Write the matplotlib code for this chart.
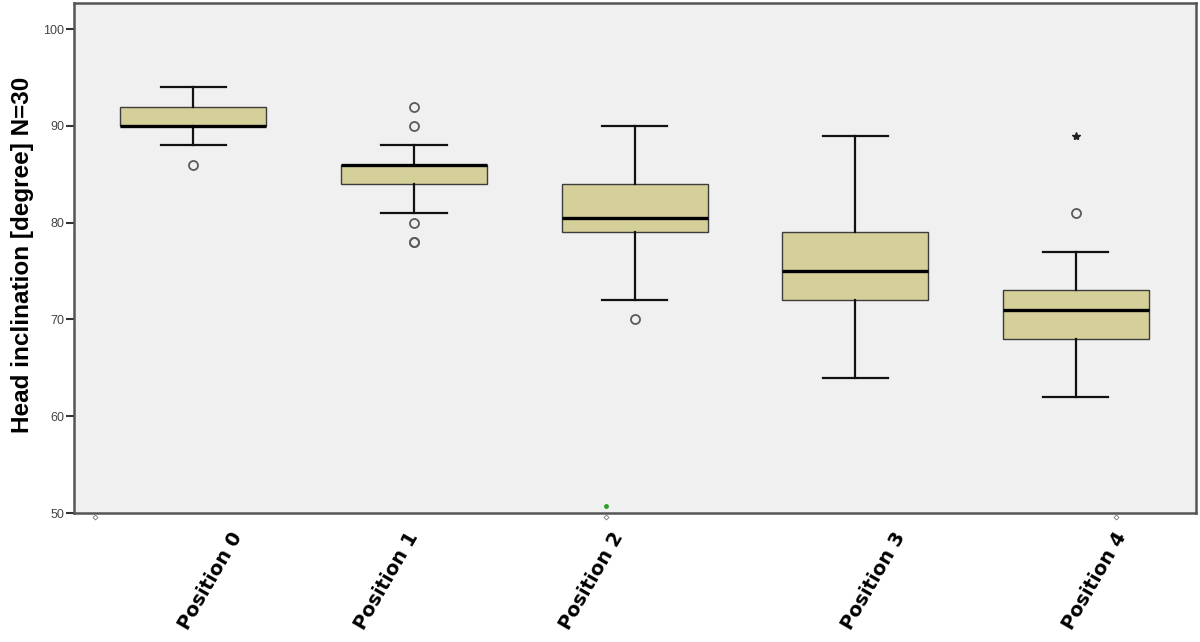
import matplotlib
matplotlib.use('Agg')
import matplotlib.pyplot as plt
from matplotlib.transforms import ScaledTranslation

# Data (Head inclination, N=30)
positions = ['Position 0', 'Position 1', 'Position 2', 'Position 3', 'Position 4']
q1 = [90, 84, 79, 72, 68]
median = [90, 86, 80.5, 75, 71]
q3 = [92, 86, 84, 79, 73]
whisker_low = [88, 81, 72, 64, 62]
whisker_high = [94, 88, 90, 89, 77]
outliers = [[86], [92, 90, 80, 78, 78], [70], [], [81]]
extremes = [[], [], [], [], [89]]

# Layout (pixel shifts of the slanted category labels, as in the original)
label_shift_px = [44, 0, -16, 46, 46]

fig = plt.figure(figsize=(12, 6.42), dpi=100)
ax = fig.add_axes([0.0617, 0.2009, 0.935, 0.7944])
ax.set_facecolor('#F0F0F0')

stats = []
for i in range(len(positions)):
    stats.append({'med': median[i], 'q1': q1[i], 'q3': q3[i],
                  'whislo': whisker_low[i], 'whishi': whisker_high[i],
                  'fliers': outliers[i], 'label': positions[i]})

xs = list(range(len(positions)))
ax.bxp(stats, positions=xs, widths=0.662, capwidths=0.295, patch_artist=True,
       boxprops=dict(facecolor='#D5D09A', edgecolor='#3c3c3c', linewidth=1.0),
       medianprops=dict(color='black', linewidth=2.4),
       whiskerprops=dict(color='#111111', linewidth=1.6),
       capprops=dict(color='#111111', linewidth=1.6),
       flierprops=dict(marker='o', markerfacecolor='none', markeredgecolor='#5a5a5a',
                       markersize=6.5, markeredgewidth=1.3))

for i, ext in enumerate(extremes):
    if ext:
        ax.plot([xs[i]] * len(ext), ext, linestyle='none', marker='*',
                color='#222222', markersize=6)

# small SPSS handle artefacts along the bottom edge
ax.plot([-0.446, 1.871, 4.18], [49.6, 49.6, 49.6], linestyle='none', marker='D',
        markersize=2.5, markerfacecolor='white', markeredgecolor='#777777',
        markeredgewidth=0.6, clip_on=False, zorder=5)
ax.plot([1.871], [50.72], marker='o', markersize=2.5, color='#2aa02a',
        clip_on=False, zorder=5)

ax.set_xlim(-0.541, 4.545)
ax.set_ylim(50, 102.7)
ax.set_yticks([50, 60, 70, 80, 90, 100])
ax.tick_params(axis='y', direction='out', length=6, width=1.5, color='#333333',
               labelsize=9, labelcolor='#444444', pad=1)
for lab in ax.get_yticklabels():
    lab.set_family(['Liberation Sans', 'DejaVu Sans'])

ax.set_xticks(xs)
ax.set_xticklabels(positions, rotation=60, ha='right', va='center',
                   rotation_mode='anchor', fontsize=14, fontweight='bold',
                   family='DejaVu Sans')
ax.tick_params(axis='x', length=0, pad=15)
for lab, dx in zip(ax.get_xticklabels(), label_shift_px):
    lab.set_transform(lab.get_transform() + ScaledTranslation(dx / 100, 0, fig.dpi_scale_trans))

ax.set_ylabel('Head inclination [degree] N=30', fontsize=17.5, fontweight='bold',
              family=['Liberation Sans', 'DejaVu Sans'])
ax.yaxis.set_label_coords(-0.0357, 0.506)

for s in ax.spines.values():
    s.set_color('#555555')
    s.set_linewidth(1.8)

fig.savefig('out.png', dpi=100, facecolor='white')
